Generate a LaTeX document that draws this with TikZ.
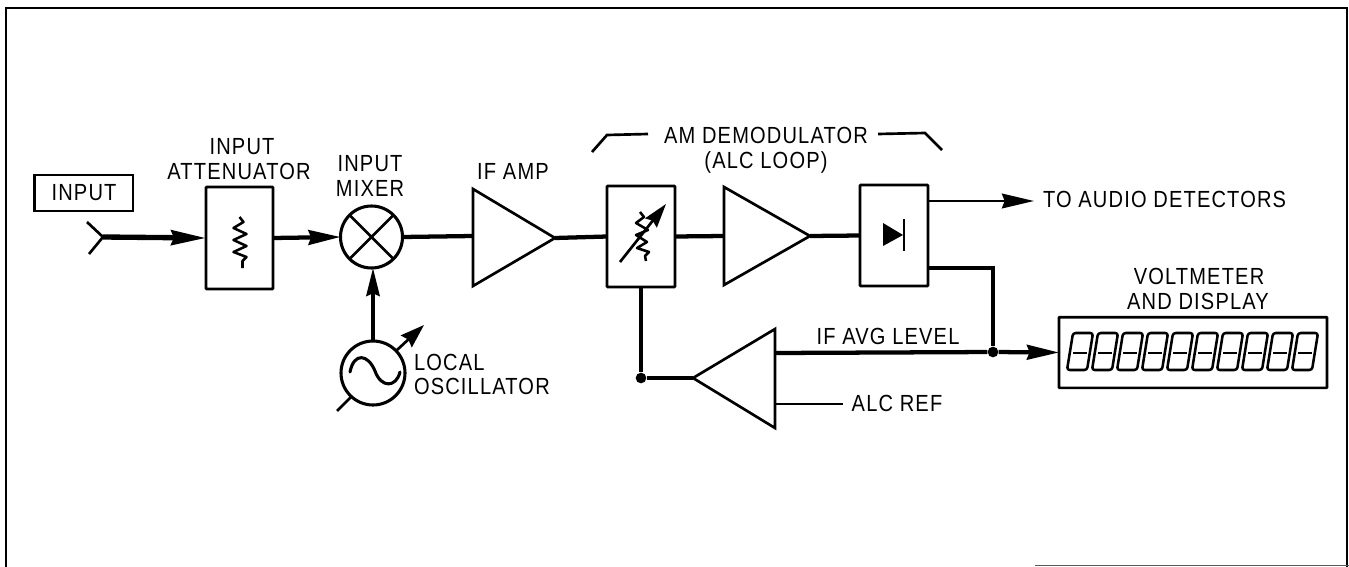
\documentclass[tikz,border=0pt]{standalone}
\usepackage{fontspec}
\setmainfont{Liberation Sans}[LetterSpace=5,FakeStretch=0.86]
\usetikzlibrary{arrows.meta,calc}
\tikzset{
  lab/.style={font=\fontsize{17.5}{17.5}\selectfont,inner sep=0pt,outer sep=0pt,text=black},
  blockbox/.style={draw,line width=2pt,inner sep=0pt,outer sep=0pt,rounded corners=0.5pt},
  round/.style={draw,circle,line width=2.3pt,inner sep=0pt,outer sep=0pt},
  thin line/.style={line width=2pt},
  heavy/.style={line width=4pt},
  medium/.style={line width=3.2pt},
  bigtip/.style={-{Stealth[length=24pt,width=11pt,inset=2pt]}},
  jdot/.style={circle,fill=black,inner sep=0pt,minimum size=8pt},
  tri/.style={line width=2pt,line join=miter},
  seg/.style={line width=1.9pt,line join=round},
}
\begin{document}
\begin{tikzpicture}[x=0.75pt,y=-0.75pt]
\useasboundingbox (0,0) rectangle (1349,567);
\draw[line width=2pt] (6,567) -- (6,8) -- (1347,8) -- (1347,567);
\draw[line width=1.2pt,black!65] (1035,565.5) -- (1349,565.5);

% input
\node[draw,line width=2pt,inner sep=0pt,minimum width=74pt,minimum height=27pt] (inbox) at (83.5,193) {};
\node[lab] (intext) at (84,193) {INPUT};
\coordinate (jack) at (103,237);
\coordinate (jacka) at (87,222);
\coordinate (jackb) at (89,254);
\draw[thin line] (jacka) -- (jack) -- (jackb);

% attenuator
\node[blockbox,minimum width=50.25pt,minimum height=76.5pt] (att) at (239.5,238) {};
\draw[line width=1.9pt,line join=round]
  ($(att.center)+(0,-21)$) -- ++(4,5) -- ++(-10,6) -- ++(13,6) -- ++(-13,6) -- ++(13,6) -- ++(-13,6) -- ++(13,5) -- ++(-4,4) -- ++(0,7);
\node[lab] at (242,147) (t1) {INPUT};
\node[lab] at (239,171) (t2) {ATTENUATOR};

% mixer
\node[round,minimum size=46.5pt] (mix) at (371.5,237) {};
\draw[line width=2pt] (mix.45) -- (mix.225) (mix.135) -- (mix.315);
\node[lab] at (370,164) (t3) {INPUT};
\node[lab] at (370,188) (t4) {MIXER};

% IF amp
\coordinate (a1t) at (473,189);
\coordinate (a1b) at (473,286);
\coordinate (a1in) at (473,236);
\coordinate (a1o) at (555,238);
\draw[tri] (a1t) -- (a1o) -- (a1b) -- cycle;
\node[lab] at (513,171) (t5) {IF AMP};

% variable attenuator
\node[blockbox,minimum width=51pt,minimum height=75.75pt] (var) at (641,236.5) {};
\draw[line width=1.9pt,line join=round]
  (640,212) -- ++(4,5) -- ++(-8,6) -- ++(12,7) -- ++(-12,5) -- ++(11,7) -- ++(-10,6) -- ++(12,4) -- ++(-4,4) -- ++(1,5);
\coordinate (varA) at (620,262);
\coordinate (varB) at (666,204);
\draw[line width=2pt,-{Stealth[length=18pt,width=11pt,inset=2pt]}] (varA) -- (varB);

% second amp
\coordinate (a2t) at (724,187);
\coordinate (a2b) at (724,285);
\coordinate (a2in) at (724,236);
\coordinate (a2o) at (810,236);
\draw[tri] (a2t) -- (a2o) -- (a2b) -- cycle;

% detector
\node[blockbox,minimum width=51pt,minimum height=75.75pt] (det) at (894,235.5) {};
\coordinate (dA) at (883,223);
\coordinate (dB) at (883,246);
\coordinate (dC) at (903,235);
\fill (dA) -- (dC) -- (dB) -- cycle;
\draw[line width=1.8pt] (904,219) -- (904,251);

% AM demod label
\node[lab] at (766,135) (t6) {AM DEMODULATOR};
\node[lab] at (766,162) (t7) {(ALC LOOP)};
\coordinate (bl1) at (592,152); \coordinate (bl2) at (607,135); \coordinate (bl3) at (648,134);
\coordinate (br1) at (878,134); \coordinate (br2) at (925,133); \coordinate (br3) at (942,150);
\draw[thin line] (bl1) -- (bl2) -- (bl3);
\draw[thin line] (br1) -- (br2) -- (br3);

% ALC amp
\coordinate (a3t) at (775,329);
\coordinate (a3b) at (775,428);
\coordinate (a3o) at (693,378);
\coordinate (a3in) at (775,353);
\coordinate (a3ref) at (775,404);
\coordinate (refend) at (843,404);
\draw[tri] (a3t) -- (a3o) -- (a3b) -- cycle;
\draw[thin line] (a3ref) -- (refend);
\node[lab] at (897,403) (t8) {ALC REF};
\node[lab] at (888,336) (t9) {IF AVG LEVEL};

% oscillator
\node[round,minimum size=48pt] (osc) at (373,373) {};
\draw[line width=2.3pt,line cap=round] (350,372) .. controls (354,352) and (368,354) .. (375,371) .. controls (381,388) and (396,388) .. (400,372);
\coordinate (oscA) at (337,411);
\coordinate (oscB) at (352,396);
\coordinate (oscC) at (397,350);
\coordinate (oscD) at (424,325);
\draw[thin line] (oscA) -- (oscB);
\draw[thin line,-{Stealth[length=18pt,width=12pt,inset=2pt]}] (oscC) -- (oscD);
\node[lab,anchor=west] at (414,362) (t10) {LOCAL};
\node[lab,anchor=west] at (414,386) (t11) {OSCILLATOR};

% display
\node[blockbox,minimum width=201pt,minimum height=53pt] (disp) at (1193,352.5) {};
\foreach \i in {0,...,9}{
  \begin{scope}[shift={(1067+25*\i,370)}]
    \draw[seg,rounded corners=2pt] (0,0) -- (6,-37) -- (26,-37) -- (20,0) -- cycle;
    \draw[seg] (6,-17) -- (20,-17);
  \end{scope}
}
\node[lab] at (1199,276) (t12) {VOLTMETER};
\node[lab] at (1198,301) (t13) {AND DISPLAY};

% outputs
\node[lab,anchor=west] at (1043,199) (t14) {TO AUDIO DETECTORS};
\coordinate (aud) at (1034,201);
\coordinate (detL) at (928,268);
\coordinate (corner) at (993,268);
\node[jdot] (j1) at (993,352) {};
\coordinate (feedTop) at (641,287);
\node[jdot] (j2) at (641,378) {};

% connectors
\draw[heavy,-{Stealth[length=26pt,width=11pt,inset=2pt]}] (jack) -- (att.west);
\draw[medium,bigtip] (att.east) -- (mix.west);
\draw[medium] (mix.east) -- (a1in);
\draw[medium] (a1o) -- (var.west);
\draw[medium] (var.east) -- (a2in);
\draw[medium] (a2o) -- (det.west);
\draw[thin line,bigtip] (det.east |- aud) -- (aud);
\draw[medium] (detL) -- (corner) -- (j1);
\draw[medium,bigtip] (a3in) -- (j1) -- (disp.west);
\draw[line width=2.6pt,-{Stealth[length=21pt,width=10pt,inset=2pt]}] (osc.north) -- (osc.north |- mix.south);
\draw[medium] (var.south) -- (j2) -- (a3o);
\end{tikzpicture}
\end{document}
